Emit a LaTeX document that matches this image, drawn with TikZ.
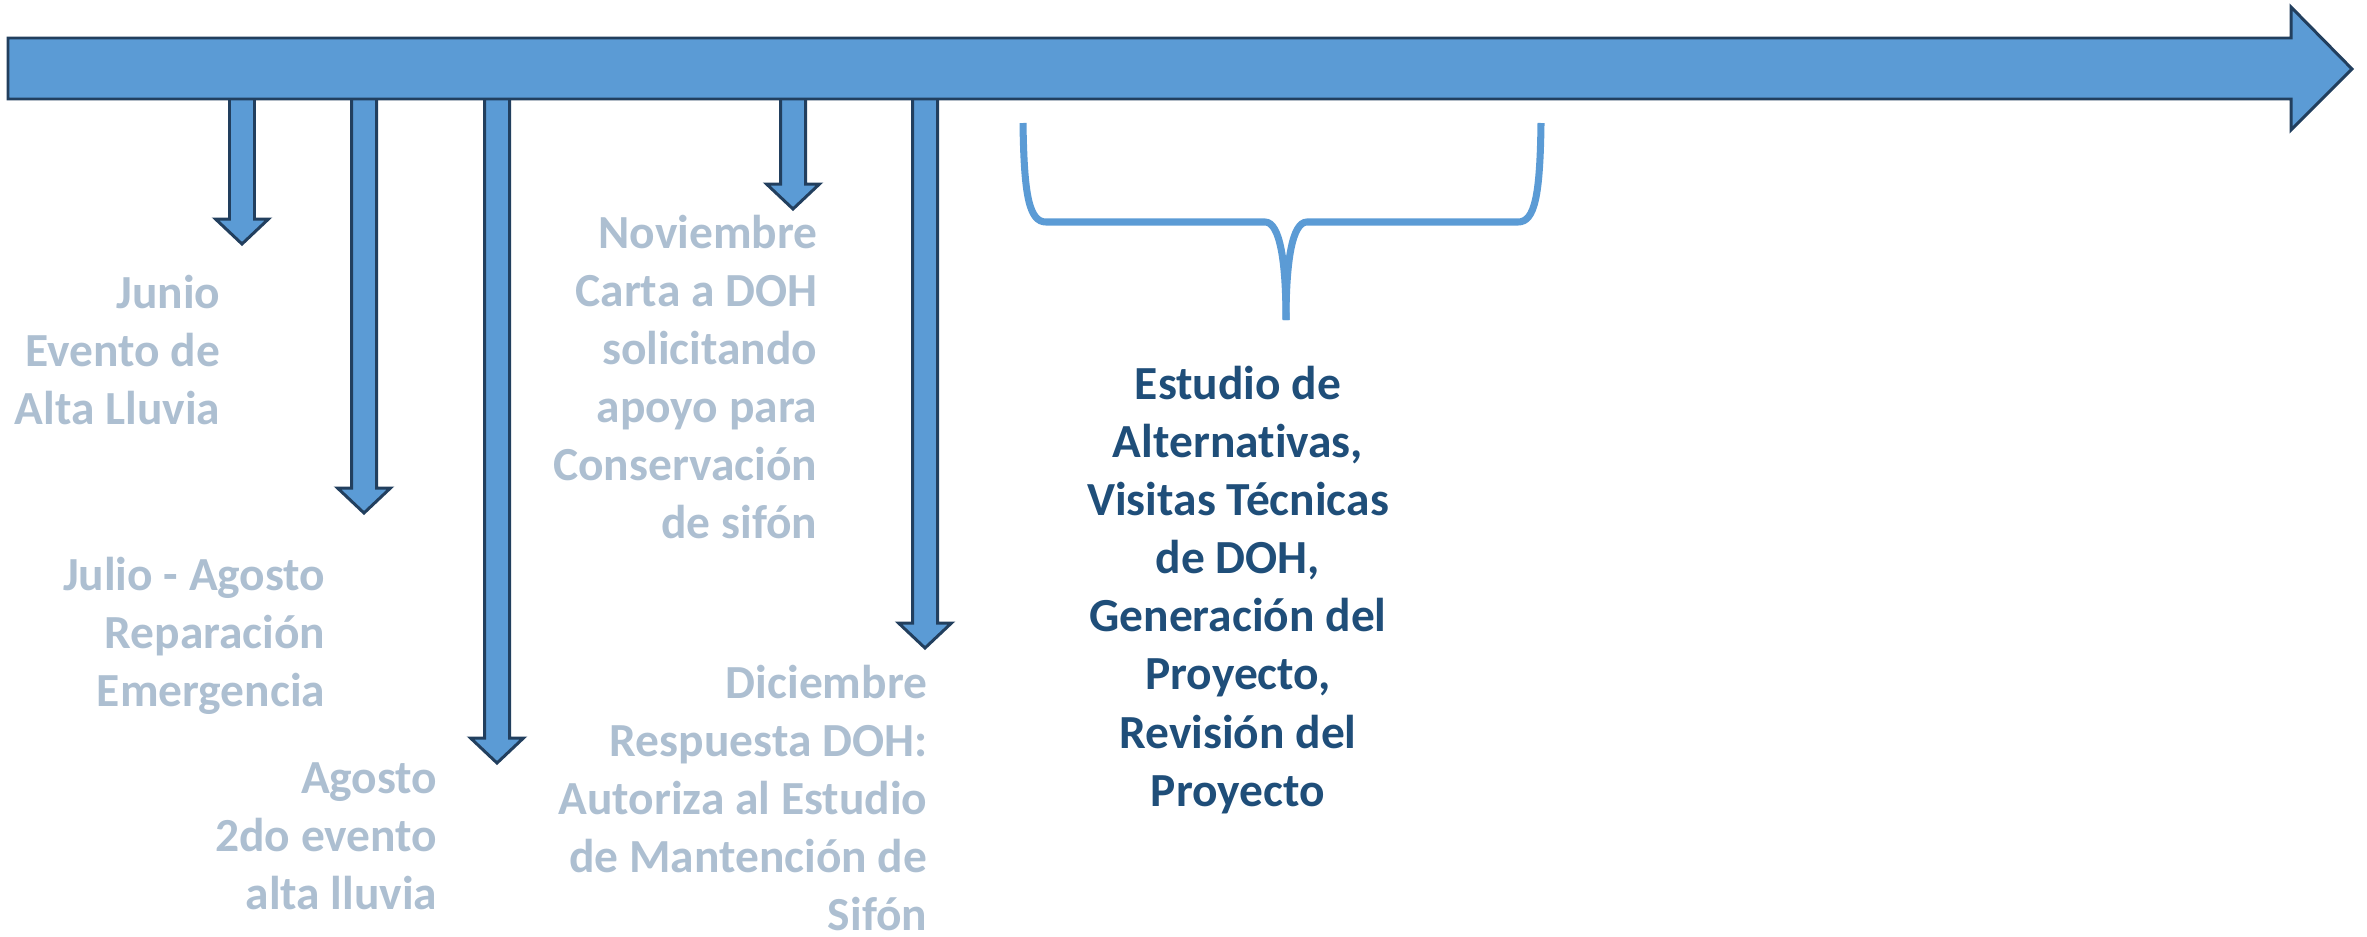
\documentclass[tikz,border=0pt]{standalone}
\usepackage{fontspec}
\setmainfont{Carlito}[Ligatures=NoCommon]
\definecolor{barblue}{HTML}{5B9BD5}
\definecolor{barline}{HTML}{223F5E}
\definecolor{eventgrey}{HTML}{ADBFD1}
\definecolor{stagenavy}{HTML}{1F4E79}

\begin{document}
\begin{tikzpicture}[
    x=0.01cm, y=-0.01cm,
    drop/.style = {fill=barblue, draw=barline, line width=0.85pt, line join=miter},
    brace/.style = {draw=barblue, line width=2pt},
    base/.style = {inner sep=0pt, font=\bfseries\fontsize{13.5}{16.5}\selectfont},
    event/.style = {base, text=eventgrey, align=right, anchor=east},
    stage/.style = {base, text=stagenavy, align=center}
]
  \useasboundingbox (0,0) rectangle (2367,936);

  % down arrows
  \draw[drop] (229.5,95) -- (229.5,219) -- (215.5,219) -- (242,244) -- (268.5,219) -- (254.5,219) -- (254.5,95) -- cycle;
  \draw[drop] (351.5,95) -- (351.5,488) -- (337.5,488) -- (364,513) -- (390.5,488) -- (376.5,488) -- (376.5,95) -- cycle;
  \draw[drop] (484.5,95) -- (484.5,738) -- (470.5,738) -- (497,763) -- (523.5,738) -- (509.5,738) -- (509.5,95) -- cycle;
  \draw[drop] (780.5,95) -- (780.5,184) -- (766.5,184) -- (793,209) -- (819.5,184) -- (805.5,184) -- (805.5,95) -- cycle;
  \draw[drop] (912.5,95) -- (912.5,623) -- (898.5,623) -- (925,648) -- (951.5,623) -- (937.5,623) -- (937.5,95) -- cycle;

  % timeline
  \draw[drop] (8,38) -- (2291,38) -- (2291,7) -- (2352,69) -- (2291,130) -- (2291,99) -- (8,99) -- cycle;

  % brace
  \coordinate (bl) at (1023,123);
  \coordinate (br) at (1541,123);
  \coordinate (btip) at (1286,320);
  \draw[brace] (bl) .. controls (1024,195) and (1029,222) .. (1046,222) -- (1265,222)
    .. controls (1280,222) and (1286,262) .. (btip);
  \draw[brace] (btip) .. controls (1286,262) and (1292,222) .. (1307,222) -- (1518,222)
    .. controls (1535,222) and (1540,195) .. (br);

  \node (junio)     [event] at (221,350) {Junio\\Evento de\\Alta Lluvia};
  \node (julio)     [event] at (326,636) {Julio - Agosto\\Reparación\\Emergencia};
  \node (agosto)    [event] at (438,836) {Agosto\\2do evento\\alta lluvia};
  \node (noviembre) [event] at (818,377) {Noviembre\\Carta a DOH\\solicitando\\apoyo para\\Conservación\\de sifón};
  \node (diciembre) [event] at (928,798) {Diciembre\\Respuesta DOH:\\Autoriza al Estudio\\de Mantención de\\Sifón};
  \node (estudio)   [stage] at (1238,590) {Estudio de\\Alternativas,\\Visitas Técnicas\\de DOH,\\Generación del\\Proyecto,\\Revisión del\\Proyecto};

\end{tikzpicture}
\end{document}
